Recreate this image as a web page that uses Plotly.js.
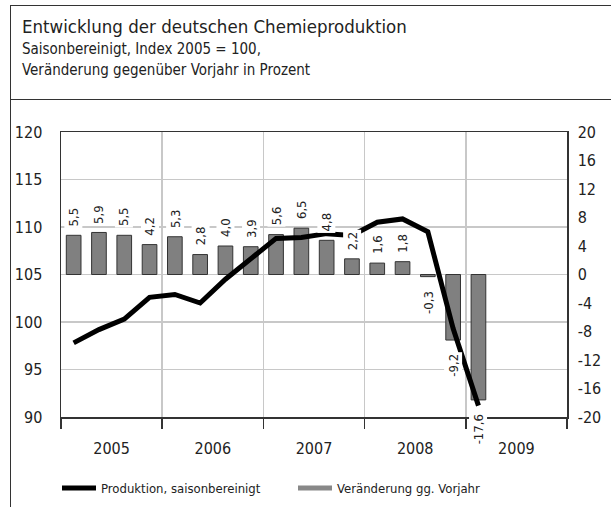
<!DOCTYPE html>
<html>
<head>
<meta charset="utf-8">
<script src="https://cdn.plot.ly/plotly-3.0.1.min.js"></script>
<style>
  html, body { margin: 0; padding: 0; background: #fff; }
  #wrap { position: relative; width: 611px; height: 507px; overflow: hidden; }
  #chart { position: absolute; left: 0; top: 0; width: 611px; height: 507px; }
  #frame { position: absolute; left: 10px; top: 5px; width: 620px; height: 520px;
           border-left: 1.5px solid #333; border-top: 1.5px solid #333; pointer-events: none; }
  #sep { position: absolute; left: 10px; top: 99px; width: 620px; height: 0;
         border-top: 1.5px solid #333; pointer-events: none; }
</style>
</head>
<body>
<div id="wrap">
  <div id="chart"></div>
  <div id="frame"></div>
  <div id="sep"></div>
</div>
<script>
// Quarters Q1 2005 .. Q1 2009
var quarters = ["I/05","II/05","III/05","IV/05","I/06","II/06","III/06","IV/06",
                "I/07","II/07","III/07","IV/07","I/08","II/08","III/08","IV/08","I/09"];
// Produktion, saisonbereinigt (Index 2005 = 100)
var production = [97.8, 99.2, 100.3, 102.6, 102.9, 102.0, 104.5, 106.7,
                  108.8, 108.9, 109.3, 109.1, 110.5, 110.85, 109.5, 99.3, 91.2];
// Veränderung gg. Vorjahr in Prozent
var change = [5.5, 5.9, 5.5, 4.2, 5.3, 2.8, 4.0, 3.9,
              5.6, 6.5, 4.8, 2.2, 1.6, 1.8, -0.3, -9.2, -17.6];
var years = ["2005","2006","2007","2008","2009"];
var leftTicks = [90, 95, 100, 105, 110, 115, 120];
var rightTicks = [-20, -16, -12, -8, -4, 0, 4, 8, 12, 16, 20];
var titleText = "Entwicklung der deutschen Chemieproduktion";
var subtitleLines = ["Saisonbereinigt, Index 2005 = 100,", "Veränderung gegenüber Vorjahr in Prozent"];

var FONT = "DejaVu Sans Condensed, Liberation Sans Narrow, sans-serif";
var TXT = "#222";

// plot area in pixels (for paper-coordinate conversions of header texts)
var W = 611, H = 507;
var PL = 61, PR = 567, PT = 132, PB = 417;
function px2paperX(px) { return (px - PL) / (PR - PL); }
function px2paperY(py) { return (PB - py) / (PB - PT); }

var xpos = quarters.map(function (q, i) { return i + 0.5; });
var yearCenters = years.map(function (y, i) { return i * 4 + 2; });
var yearBounds = [0, 4, 8, 12, 16, 20];

var traces = [
  {
    type: "bar", x: xpos, y: change, yaxis: "y", xaxis: "x",
    width: 0.58, marker: { color: "#808080", line: { color: "#333", width: 1 } },
    showlegend: false, hoverinfo: "skip"
  },
  {
    type: "scatter", mode: "lines", x: xpos, y: production, yaxis: "y2", xaxis: "x",
    line: { color: "#000", width: 5 }, name: "Produktion, saisonbereinigt"
  },
  {
    type: "scatter", mode: "lines", x: [null], y: [null], yaxis: "y2", xaxis: "x",
    line: { color: "#888", width: 5 }, name: "Veränderung gg. Vorjahr"
  }
];

var annotations = change.map(function (v, i) {
  var t = v.toFixed(1).replace(".", ",");
  return {
    x: xpos[i], y: v, xref: "x", yref: "y", text: t, showarrow: false,
    textangle: -90, bgcolor: "#fff", borderpad: 1,
    yanchor: v >= 0 ? "bottom" : "top", yshift: v >= 0 ? 7 : -12,
    font: { family: FONT, size: 13, color: TXT }
  };
});

annotations.push({
  xref: "paper", yref: "paper", x: px2paperX(20), y: px2paperY(27),
  xanchor: "left", yanchor: "middle", showarrow: false, text: titleText,
  font: { family: FONT, size: 18.5, color: TXT }
});
subtitleLines.forEach(function (s, i) {
  annotations.push({
    xref: "paper", yref: "paper", x: px2paperX(20), y: px2paperY(49 + i * 21),
    xanchor: "left", yanchor: "middle", showarrow: false, text: s,
    font: { family: FONT, size: 15, color: TXT }
  });
});

var layout = {
  width: W, height: H,
  margin: { l: PL, r: W - PR, t: PT, b: H - PB },
  paper_bgcolor: "rgba(0,0,0,0)", plot_bgcolor: "#fff",
  font: { family: FONT, color: TXT, size: 15 },
  bargap: 0,
  xaxis: {
    range: [0, 20], showgrid: false, zeroline: false, automargin: false,
    tickmode: "array", tickvals: yearCenters, ticktext: years,
    ticks: "outside", ticklen: 16, tickcolor: "rgba(0,0,0,0)",
    tickfont: { family: FONT, size: 16, color: TXT },
    showline: true, linecolor: "#333", linewidth: 1.5, mirror: true,
    minor: { tickmode: "array", tickvals: yearBounds, ticks: "outside", ticklen: 10,
             tickcolor: "#333", tickwidth: 1.5, showgrid: true, gridcolor: "#c8c8c8", gridwidth: 1.5 }
  },
  yaxis: {
    range: [-20, 20], side: "right", anchor: "x", automargin: false,
    tickmode: "array", tickvals: rightTicks,
    ticktext: rightTicks.map(function (v) { return String(v); }),
    showgrid: false, zeroline: false,
    ticks: "outside", ticklen: 6, tickcolor: "rgba(0,0,0,0)",
    tickfont: { family: FONT, size: 16, color: TXT },
    showline: true, linecolor: "#333", linewidth: 1.5
  },
  yaxis2: {
    range: [90, 120], side: "left", overlaying: "y", anchor: "x", automargin: false,
    tickmode: "array", tickvals: leftTicks,
    showgrid: true, gridcolor: "#c8c8c8", gridwidth: 1.5, zeroline: false,
    ticks: "outside", ticklen: 14, tickcolor: "rgba(0,0,0,0)",
    tickfont: { family: FONT, size: 16, color: TXT },
    showline: true, linecolor: "#333", linewidth: 1.5
  },
  legend: {
    orientation: "h", xref: "container", yref: "container",
    x: 57 / W, xanchor: "left", y: 1 - 488 / H, yanchor: "middle",
    font: { family: FONT, size: 13, color: TXT }, entrywidth: 187, itemwidth: 34
  },
  annotations: annotations,
  showlegend: true
};

Plotly.newPlot("chart", traces, layout, { staticPlot: true });
</script>
</body>
</html>
